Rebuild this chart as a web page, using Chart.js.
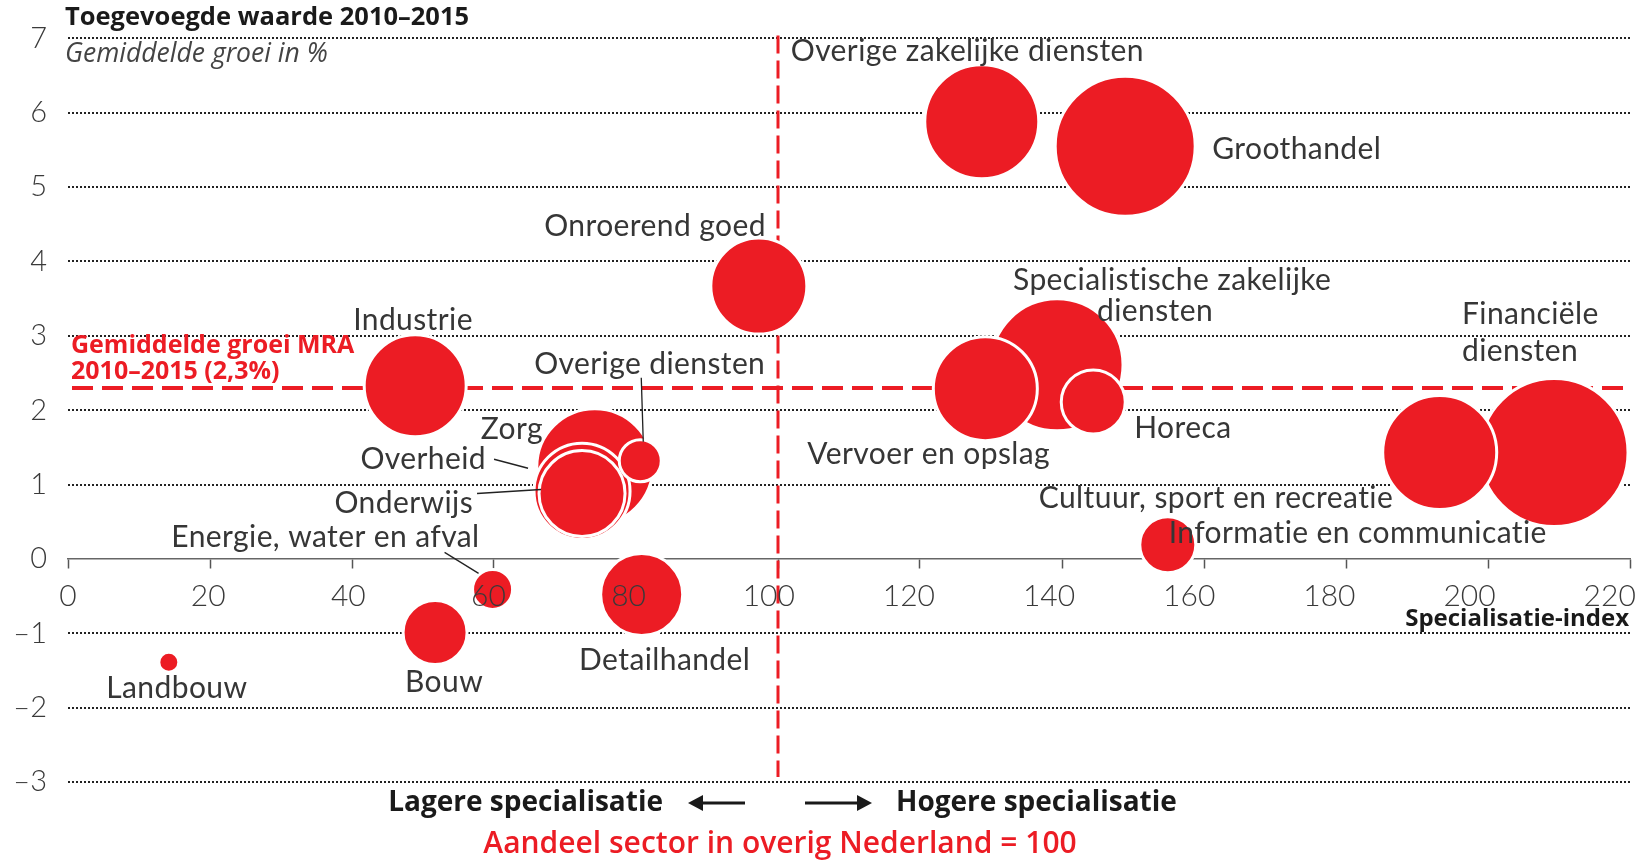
<!DOCTYPE html>
<html><head><meta charset="utf-8">
<script src="https://cdn.jsdelivr.net/npm/chart.js@4"></script>
<style>html,body{margin:0;padding:0;background:#fff}#wrap{width:1639px;height:860px}</style>
</head><body><div id="wrap"><canvas id="c" width="1639" height="860"></canvas></div>
<script>
// ---------- DATA ----------
const sectors = ['Financiële diensten','Informatie en communicatie','Groothandel','Overige zakelijke diensten',
  'Specialistische zakelijke diensten','Vervoer en opslag','Horeca','Onroerend goed','Industrie','Zorg',
  'Overheid','Onderwijs','Overige diensten','Detailhandel','Bouw','Energie, water en afval',
  'Cultuur, sport en recreatie','Landbouw'];
const specIndex = [209.3,193.2,148.9,128.7,139.3,129.2,144.4,97.3,48.9,74.2,72.4,72.4,80.6,80.8,51.7,59.8,154.9,14.2];
const growth    = [1.43,1.43,5.55,5.88,2.61,2.29,2.11,3.67,2.33,1.24,0.91,0.88,1.32,-0.48,-0.99,-0.41,0.19,-1.39];
const bubbleSize = [74,57,70,57,66,52,32,48,51,58,48,43,21,41,32,20,28,10];
const avgGrowthMRA = 2.3;
const refIndex = 100;
const xTickValues = [0,20,40,60,80,100,120,140,160,180,200,220];
const yTickLabels = {'-3':'–3','-2':'–2','-1':'–1','0':'0','1':'1','2':'2','3':'3','4':'4','5':'5','6':'6','7':'7'};

// ---------- STYLE / LAYOUT ----------
const RED = '#ec1c24';
const TXT = '#363636';
const FONT = 'Lato, "Open Sans", sans-serif';
const BFONT = '"Open Sans", Lato, sans-serif';

const labelLayout = [
  {ref:'Overige zakelijke diensten', text:'Overige zakelijke diensten', dx:-191, dy:-70, align:'left'},
  {ref:'Groothandel', text:'Groothandel', dx:87, dy:3, align:'left'},
  {ref:'Onroerend goed', text:'Onroerend goed', dx:7, dy:-60, align:'right'},
  {ref:'Specialistische zakelijke diensten', text:'Specialistische zakelijke', dx:-44, dy:-85, align:'left'},
  {ref:'Specialistische zakelijke diensten', text:'diensten', dx:40, dy:-54, align:'left'},
  {ref:'Financiële diensten', text:'Financiële', dx:-92, dy:-138, align:'left'},
  {ref:'Financiële diensten', text:'diensten', dx:-92, dy:-101, align:'left'},
  {ref:'Industrie', text:'Industrie', dx:-62, dy:-65, align:'left'},
  {ref:'Overige diensten', text:'Overige diensten', dx:125, dy:-96, align:'right'},
  {ref:'Zorg', text:'Zorg', dx:-114, dy:-37, align:'left'},
  {ref:'Overheid', text:'Overheid', dx:-96, dy:-32, align:'right'},
  {ref:'Onderwijs', text:'Onderwijs', dx:-109, dy:10, align:'right'},
  {ref:'Energie, water en afval', text:'Energie, water en afval', dx:-13, dy:-52, align:'right'},
  {ref:'Landbouw', text:'Landbouw', dx:8, dy:26, align:'center'},
  {ref:'Bouw', text:'Bouw', dx:9, dy:50, align:'center'},
  {ref:'Detailhandel', text:'Detailhandel', dx:23, dy:66, align:'center'},
  {ref:'Vervoer en opslag', text:'Vervoer en opslag', dx:-178, dy:66, align:'left'},
  {ref:'Horeca', text:'Horeca', dx:41, dy:26, align:'left'},
  {ref:'Cultuur, sport en recreatie', text:'Cultuur, sport en recreatie', dx:-129, dy:-46, align:'left'},
  {ref:'Informatie en communicatie', text:'Informatie en communicatie', dx:-271, dy:81, align:'left'}
];
const leaderLayout = [
  {ref:'Overige diensten', x1:1, y1:-83, x2:3, y2:-19},
  {ref:'Overheid', x1:-88, y1:-32, x2:-54, y2:-23},
  {ref:'Onderwijs', x1:-105, y1:0, x2:-41, y2:-4},
  {ref:'Energie, water en afval', x1:-48, y1:-37, x2:-14, y2:-16}
];

const bubbles = sectors.map((s,i)=>({x:specIndex[i], y:growth[i], r:bubbleSize[i], label:s}));

function px(chart, name){
  const i = sectors.indexOf(name);
  return {x: chart.scales.x.getPixelForValue(specIndex[i]), y: chart.scales.y.getPixelForValue(growth[i])};
}

const refLines = {
  id:'refLines',
  beforeDatasetsDraw(chart){
    const {ctx, chartArea:a, scales:{x,y}} = chart;
    ctx.save();
    ctx.strokeStyle = RED;
    ctx.lineWidth = 4; ctx.setLineDash([21,9]);
    const yy = y.getPixelForValue(avgGrowthMRA);
    ctx.beginPath(); ctx.moveTo(a.left+4, yy); ctx.lineTo(a.right, yy); ctx.stroke();
    ctx.lineWidth = 3; ctx.setLineDash([18,7]);
    const xx = x.getPixelForValue(refIndex);
    ctx.beginPath(); ctx.moveTo(xx, a.top-3); ctx.lineTo(xx, a.bottom-5); ctx.stroke();
    ctx.restore();
  }
};

function arrow(ctx, x1, x2, y){
  const d = Math.sign(x2-x1);
  ctx.beginPath(); ctx.moveTo(x1, y); ctx.lineTo(x2 - d*8, y); ctx.stroke();
  ctx.beginPath(); ctx.moveTo(x2, y); ctx.lineTo(x2-d*15, y-8); ctx.lineTo(x2-d*15, y+8); ctx.closePath(); ctx.fill();
}

const textPlugin = {
  id:'texts',
  afterDraw(chart){
    const {ctx, chartArea:a, scales:{x,y}} = chart;
    ctx.save();
    ctx.textBaseline = 'middle';
    ctx.fillStyle = TXT;
    ctx.font = '400 30px ' + FONT;
    if ('letterSpacing' in ctx) ctx.letterSpacing = '0.4px';
    labelLayout.forEach(l=>{
      const p = px(chart, l.ref);
      ctx.textAlign = l.align;
      ctx.fillText(l.text, p.x + l.dx, p.y + l.dy);
    });
    if ('letterSpacing' in ctx) ctx.letterSpacing = '0px';
    ctx.strokeStyle = '#222'; ctx.lineWidth = 1.3;
    leaderLayout.forEach(l=>{
      const p = px(chart, l.ref);
      ctx.beginPath(); ctx.moveTo(p.x+l.x1, p.y+l.y1); ctx.lineTo(p.x+l.x2, p.y+l.y2); ctx.stroke();
    });
    ctx.textAlign = 'left';
    ctx.fillStyle = '#1a1a1a';
    ctx.font = '700 25.5px ' + BFONT;
    ctx.fillText('Toegevoegde waarde 2010–2015', a.left-3, 18);
    ctx.fillStyle = '#444';
    ctx.font = 'italic 400 26.5px ' + BFONT;
    ctx.fillText('Gemiddelde groei in %', a.left-3, 54);
    const yy = y.getPixelForValue(avgGrowthMRA);
    ctx.fillStyle = RED;
    ctx.font = '700 25px ' + BFONT;
    ctx.fillText('Gemiddelde groei MRA', a.left+3, yy-42);
    ctx.fillText('2010–2015 (2,3%)', a.left+3, yy-16);
    ctx.fillStyle = '#1a1a1a';
    ctx.textAlign = 'right';
    ctx.font = '700 24px ' + BFONT;
    ctx.fillText('Specialisatie-index', a.right-1, y.getPixelForValue(0)+60);
    const xx = x.getPixelForValue(refIndex);
    const by = 803;
    ctx.font = '700 28px ' + BFONT;
    ctx.textAlign = 'right';
    ctx.fillText('Lagere specialisatie', xx-115, by);
    ctx.textAlign = 'left';
    ctx.fillText('Hogere specialisatie', xx+118, by);
    ctx.strokeStyle = '#1a1a1a'; ctx.fillStyle = '#1a1a1a'; ctx.lineWidth = 3;
    arrow(ctx, xx-33, xx-90, by);
    arrow(ctx, xx+27, xx+94, by);
    ctx.fillStyle = RED;
    ctx.textAlign = 'center';
    ctx.font = '600 30px ' + BFONT;
    ctx.fillText('Aandeel sector in overig Nederland = 100', xx+2, 844);
    ctx.restore();
  }
};

const zeroPad = s => { s.paddingLeft = 0; s.paddingRight = 0; };

new Chart(document.getElementById('c'), {
  type:'bubble',
  data:{ datasets:[{
    data: bubbles,
    backgroundColor: RED,
    borderColor: '#ffffff',
    borderWidth: 3,
    clip: false
  }]},
  options:{
    responsive:false,
    devicePixelRatio:1,
    animation:false,
    events:[],
    layout:{autoPadding:false, padding:{left:0, right:9, top:33, bottom:78}},
    plugins:{legend:{display:false}, tooltip:{enabled:false}},
    scales:{
      x:{
        type:'linear', min:0, max:220, position:{y:0},
        ticks:{display:false, stepSize:20},
        grid:{drawOnChartArea:false, drawTicks:true, tickLength:9, tickColor:'#555', tickWidth:1.5},
        border:{display:true, color:'#666', width:1.5},
        afterFit: zeroPad
      },
      x2:{
        type:'linear', min:0, max:222.9, position:{y:0}, axis:'x',
        afterBuildTicks: s => { s.ticks = xTickValues.map(v=>({value:v})); },
        ticks:{z:1, color:'#3a3a3a', font:{family:FONT, size:30, weight:'300'}, padding:19, maxRotation:0, autoSkip:false},
        grid:{display:false, drawTicks:false},
        border:{display:false},
        afterFit: zeroPad
      },
      y:{
        type:'linear', min:-3, max:7,
        ticks:{stepSize:1, color:'#3a3a3a', padding:21, font:{family:FONT, size:29, weight:'300'},
          callback: v => yTickLabels[String(v)]},
        grid:{drawTicks:false, lineWidth:2,
          color: c => (c.tick && c.tick.value === 0) ? 'rgba(0,0,0,0)' : '#222'},
        border:{display:false, dash:[2,2]},
        afterFit: s => { s.width = 68; }
      }
    }
  },
  plugins:[refLines, textPlugin]
});
</script></body></html>
